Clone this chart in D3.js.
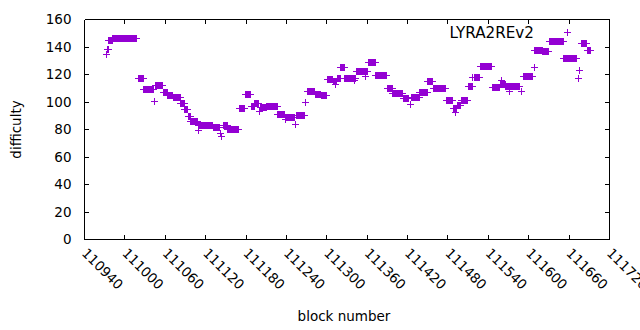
<!DOCTYPE html>
<html>
<head>
<meta charset="utf-8">
<script src="https://cdn.jsdelivr.net/npm/d3@7"></script>
<style>
  html, body { margin: 0; padding: 0; background: #fff; }
  svg { display: block; }
</style>
</head>
<body>
<div id="chart"></div>
<script>
// ---- data (runs of consecutive blocks sharing one difficulty value) ----
const seriesName = "LYRA2REv2";
const runFirst = [110973,110974,110976,110982,111020,111028,111044,111046,111057,111064,
  111072,111083,111089,111094,111098,111109,111110,111131,111142,111144,
  111146,111153,111170,111179,111188,111193,111200,111202,111211,111227,
  111238,111239,111253,111255,111268,111271,111283,111292,111301,111310,
  111313,111316,111321,111327,111341,111344,111357,111362,111373,111390,
  111398,111414,111425,111426,111438,111450,111458,111478,111488,111491,
  111494,111500,111510,111517,111519,111528,111546,111558,111559,111566,
  111572,111589,111592,111608,111609,111621,111631,111652,111674,111676,
  111678,111687];
const runLast = [110973,110975,110981,111017,111027,111042,111044,111056,111063,111071,
  111082,111088,111093,111097,111108,111109,111130,111141,111142,111144,
  111152,111169,111178,111187,111192,111199,111200,111210,111226,111237,
  111238,111252,111253,111267,111268,111282,111291,111300,111309,111315,
  111313,111320,111326,111343,111341,111361,111357,111372,111389,111397,
  111413,111422,111425,111437,111449,111457,111477,111487,111493,111491,
  111499,111509,111516,111517,111527,111545,111557,111565,111559,111586,
  111572,111589,111606,111608,111620,111630,111651,111671,111674,111676,
  111686,111692];
const runDifficulty = [134.5,138.3,144.5,146,117,109,100.5,112,107,104.5,
  103.5,99,94.5,89.5,85.5,79,83,81.2,77,74.8,
  82.8,80.2,95.2,105.5,96.4,98.9,93.4,95.8,97,91,
  87.5,88.6,83.5,90,99.6,108,105.5,104.5,116.4,114.8,
  112.4,117.4,125,117.3,115.8,122.4,118.5,128.7,119.2,110,
  106.2,102.3,98.4,103.2,106.9,114.6,109.8,101.3,95.4,92.6,
  97.8,101.3,111,117.8,118,126,110.4,112.4,115.9,111,
  107.3,107.3,118.4,125,137.5,136.5,143.8,131.6,117.2,123,
  142.4,137.5];
const xTicks = [110940,111000,111060,111120,111180,111240,111300,111360,111420,111480,111540,111600,111660,111720];
const yTicks = [0,20,40,60,80,100,120,140,160];

// ---- expand runs to one point per block ----
const points = [];
runFirst.forEach((f, i) => {
  for (let b = f; b <= runLast[i]; b++) points.push({block: b, difficulty: runDifficulty[i]});
});

const W = 640, H = 330;
const color = "#9400D3";
const font = "'DejaVu Sans', sans-serif";
const svg = d3.select("#chart").append("svg").attr("width", W).attr("height", H);

const x = d3.scaleLinear().domain([110940, 111720]).range([84.5, 609.5]);
const y = d3.scaleLinear().domain([0, 160]).range([239.5, 19.5]);

// axes with inward ticks, mirrored
svg.append("g").attr("transform", "translate(0,239.5)")
  .call(d3.axisBottom(x).tickValues(xTicks).tickSizeInner(-4.5).tickSizeOuter(0).tickFormat("").offset(0));
svg.append("g").attr("transform", "translate(0,19.5)")
  .call(d3.axisTop(x).tickValues(xTicks).tickSizeInner(-4.5).tickSizeOuter(0).tickFormat("").offset(0));
const gl = svg.append("g").attr("transform", "translate(84.5,0)")
  .call(d3.axisLeft(y).tickValues(yTicks).tickSizeInner(-4.5).tickSizeOuter(0).tickPadding(13).offset(0));
svg.append("g").attr("transform", "translate(609.5,0)")
  .call(d3.axisRight(y).tickValues(yTicks).tickSizeInner(-4.5).tickSizeOuter(0).tickFormat("").offset(0));
svg.selectAll(".tick line").attr("shape-rendering", "crispEdges");
svg.selectAll(".domain").attr("shape-rendering", "crispEdges");
gl.selectAll("text").attr("font-family", font).attr("font-size", 13.5).attr("dy", "0.36em").attr("fill", "#000");

// rotated x tick labels
svg.append("g").selectAll("text").data(xTicks).join("text")
  .attr("transform", d => `translate(${x(d) - 3.5},254) rotate(45)`)
  .attr("font-family", font).attr("font-size", 13.5).attr("fill", "#000")
  .attr("text-anchor", "start")
  .text(d => d);

// axis titles
svg.append("text").attr("transform", "translate(21,129.5) rotate(-90)")
  .attr("text-anchor", "middle").attr("font-family", font).attr("font-size", 13.5)
  .text("difficulty");
svg.append("text").attr("x", 344).attr("y", 321)
  .attr("text-anchor", "middle").attr("font-family", font).attr("font-size", 13.5)
  .text("block number");

// plus markers
const h = 3.5;
const plus = (cx, cy) => `M${cx - h},${cy}H${cx + h}M${cx},${cy - h}V${cy + h}`;
svg.append("g").attr("shape-rendering", "crispEdges").selectAll("path").data(points).join("path")
  .attr("d", d => plus(x(d.block), y(d.difficulty)))
  .attr("fill", "none").attr("stroke", color).attr("stroke-width", 1);

// key
svg.append("text").attr("x", 534).attr("y", 37.5).attr("text-anchor", "end")
  .attr("font-family", font).attr("font-size", 15.2).text(seriesName);
svg.append("path").attr("d", plus(567, 32.5)).attr("shape-rendering", "crispEdges")
  .attr("fill", "none").attr("stroke", color).attr("stroke-width", 1);
</script>
</body>
</html>
